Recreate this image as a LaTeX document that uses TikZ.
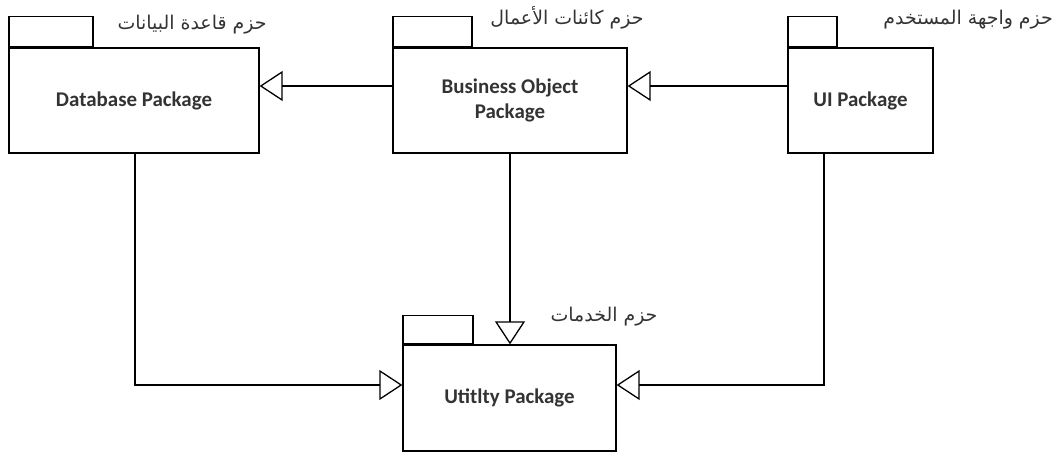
\documentclass[tikz,border=0pt]{standalone}
\usepackage{fontspec}
\setmainfont{Carlito}
\newfontfamily\arabicfont[Script=Arabic]{DejaVu Sans}
\TeXXeTstate=1
\usetikzlibrary{arrows.meta,positioning}
\begin{document}
\begin{tikzpicture}[x=1bp,y=-1bp,
  pkg/.style={draw,line width=1.3bp,minimum height=105bp,inner sep=0pt,align=center,
    font=\fontsize{21}{25}\selectfont\bfseries,text=black!80},
  tabbox/.style={draw,line width=1.3bp,minimum height=30bp,inner sep=0pt,anchor=south west},
  albl/.style={font=\arabicfont\fontsize{19}{22}\selectfont,text=black!80,inner sep=0pt},
  gen/.style={line width=1.3bp,-{Triangle[open,length=23bp,width=30bp,line width=1.3bp]}}
]
\useasboundingbox (0,0) rectangle (1055,455);
% packages
\node[pkg,minimum width=250bp] (db) at (134,100.5) {Database Package};
\node[tabbox,minimum width=84bp] (dbtab) at (db.north west) {};
\node[pkg,minimum width=234bp] (bo) at (510,100.5) {Business Object\\Package};
\node[tabbox,minimum width=79bp] (botab) at (bo.north west) {};
\node[pkg,minimum width=145bp] (ui) at (860.5,100.5) {UI Package};
\node[tabbox,minimum width=49bp] (uitab) at (ui.north west) {};
\node[pkg,minimum width=213bp,minimum height=106bp] (ut) at (509.5,398) {Utitlty Package};
\node[tabbox,minimum width=70bp,minimum height=28bp] (uttab) at (ut.north west) {};
% labels
\node[albl] (dbl) at (192,25) {\beginR حزم قاعدة البيانات\endR};
\node[albl] (bol) at (567,18) {\beginR حزم كائنات الأعمال\endR};
\node[albl,anchor=east] (uil) at (1053,20) {\beginR حزم واجهة المستخدم\endR};
\node[albl] (utl) at (604,317) {\beginR حزم الخدمات\endR};
% connectors
\draw[gen] ([yshift=14.5bp]ui.west) -- ([yshift=14.5bp]bo.east);
\draw[gen] ([yshift=14.5bp]bo.west) -- ([yshift=14.5bp]db.east);
\draw[gen] (bo.south) -- (bo.south |- ut.north);
\draw[gen] ([xshift=1bp]db.south) |- ([yshift=13bp]ut.west);
\draw[gen] ([xshift=-36.5bp]ui.south) |- ([yshift=13bp]ut.east);
\end{tikzpicture}
\end{document}
